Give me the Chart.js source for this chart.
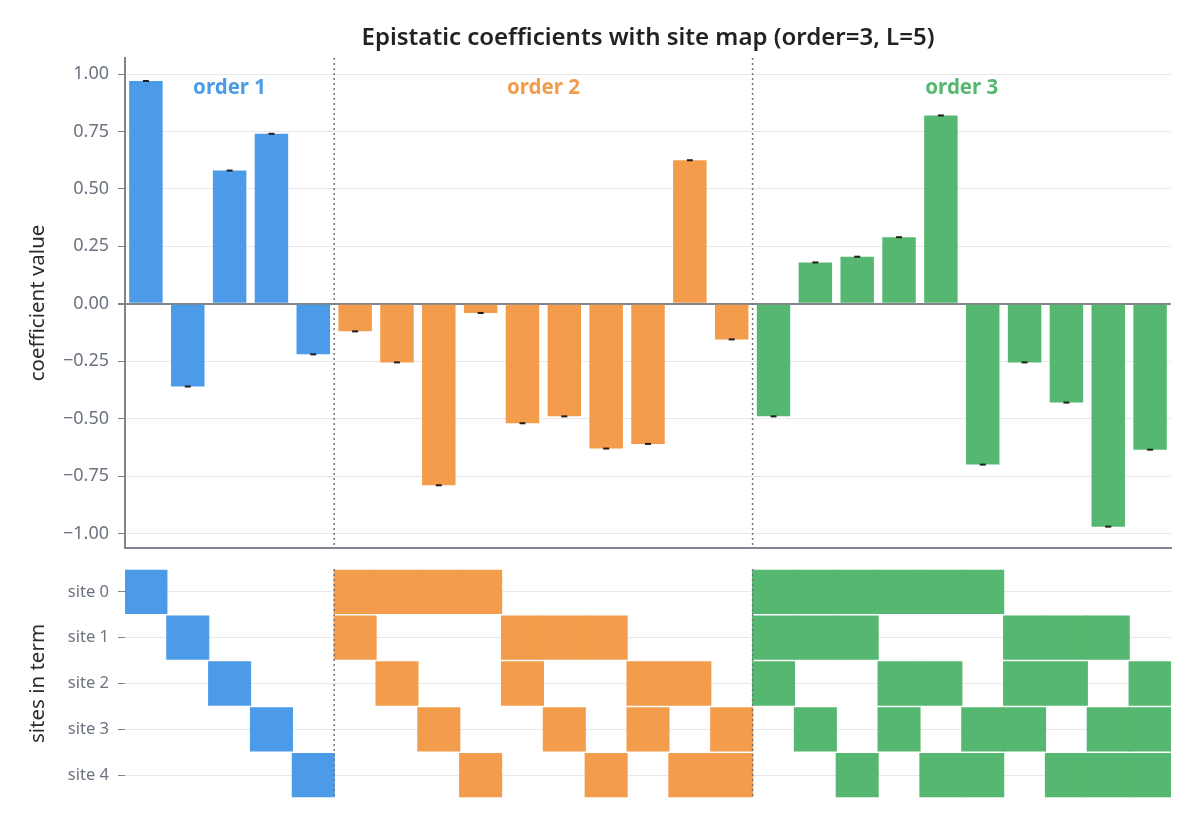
<!DOCTYPE html>
<html>
<head>
<meta charset="utf-8">
<script src="https://cdn.jsdelivr.net/npm/chart.js@4.4.1/dist/chart.umd.min.js"></script>
<style>
  body { margin: 0; background: #fff; }
  #wrap { position: relative; width: 1197px; height: 825px; }
  #coefChart { position: absolute; left: 0; top: 0; }
  #siteChart { position: absolute; left: 0; top: 560px; }
</style>
</head>
<body>
<div id="wrap">
  <canvas id="coefChart" width="1197" height="560"></canvas>
  <canvas id="siteChart" width="1197" height="265"></canvas>
</div>
<script>
// terms in the order they are plotted
var terms = [
  [0], [1], [2], [3], [4],
  [0,1], [0,2], [0,3], [0,4], [1,2], [1,3], [1,4], [2,3], [2,4], [3,4],
  [0,1,2], [0,1,3], [0,1,4], [0,2,3], [0,2,4], [0,3,4], [1,2,3], [1,2,4], [1,3,4], [2,3,4]
];
var termOrder = terms.map(function(t){ return t.length; });
var coefValues = [
  0.97, -0.36, 0.58, 0.74, -0.22,
  -0.12, -0.255, -0.79, -0.04, -0.52, -0.49, -0.63, -0.61, 0.625, -0.155,
  -0.49, 0.18, 0.205, 0.29, 0.82, -0.70, -0.255, -0.43, -0.97, -0.635
];
var orderNames = ['order 1', 'order 2', 'order 3'];
var orderColors = ['#4c9be8', '#f39c4b', '#56b870'];
var coefTicks = [-1, -0.75, -0.5, -0.25, 0, 0.25, 0.5, 0.75, 1];
var siteLabels = ['site 0', 'site 1', 'site 2', 'site 3', 'site 4'];

var FONT = '"Noto Sans", "DejaVu Sans", sans-serif';
var GRAY = '#80848c';
var labels = terms.map(function(t){ return t.join(','); });
var barColors = termOrder.map(function(o){ return orderColors[o - 1]; });

function fmt(v) {
  var s = Math.abs(v).toFixed(2);
  return v < 0 ? '\u2212' + s : s;
}

// fixed axis width, no extra label padding
function fixY(s) {
  s.width = 125;
  s.paddingTop = 0;
  s.paddingBottom = 0;
}

// dotted separators between order groups
function drawSeparators(chart) {
  var ctx = chart.ctx, x = chart.scales.x, a = chart.chartArea;
  ctx.save();
  ctx.strokeStyle = '#70747c';
  ctx.lineWidth = 1.5;
  ctx.setLineDash([2, 3]);
  for (var i = 1; i < termOrder.length; i++) {
    if (termOrder[i] !== termOrder[i - 1]) {
      var px = (x.getPixelForValue(i - 1) + x.getPixelForValue(i)) / 2;
      ctx.beginPath();
      ctx.moveTo(px, a.top);
      ctx.lineTo(px, a.bottom);
      ctx.stroke();
    }
  }
  ctx.restore();
}

function drawAxisTitle(chart, text) {
  var ctx = chart.ctx, a = chart.chartArea;
  ctx.save();
  ctx.translate(38, (a.top + a.bottom) / 2);
  ctx.rotate(-Math.PI / 2);
  ctx.fillStyle = '#2b2b2b';
  ctx.font = '20.5px ' + FONT;
  ctx.textAlign = 'center';
  ctx.textBaseline = 'middle';
  ctx.fillText(text, 0, 0);
  ctx.restore();
}

var coefDecor = {
  id: 'coefDecor',
  afterDatasetsDraw: function(chart) {
    var ctx = chart.ctx, x = chart.scales.x, a = chart.chartArea;
    drawSeparators(chart);
    // group labels
    ctx.save();
    ctx.font = 'bold 20.5px ' + FONT;
    ctx.textAlign = 'center';
    ctx.textBaseline = 'middle';
    for (var o = 1; o <= orderNames.length; o++) {
      var first = termOrder.indexOf(o), last = termOrder.lastIndexOf(o);
      var cx = (x.getPixelForValue(first) + x.getPixelForValue(last)) / 2;
      ctx.fillStyle = orderColors[o - 1];
      ctx.fillText(orderNames[o - 1], cx, a.top + 30);
    }
    // title
    ctx.fillStyle = '#222';
    ctx.font = '600 24px ' + FONT;
    ctx.fillText('Epistatic coefficients with site map (order=3, L=5)', (a.left + a.right) / 2, 38);
    ctx.restore();
    drawAxisTitle(chart, 'coefficient value');
  }
};

new Chart(document.getElementById('coefChart'), {
  type: 'bar',
  data: {
    labels: labels,
    datasets: [{
      type: 'line',
      data: coefValues,
      showLine: false,
      pointStyle: 'line',
      pointRadius: 3,
      pointBorderWidth: 2,
      pointBorderColor: '#1e1e1e',
      order: 0
    }, {
      data: coefValues,
      backgroundColor: barColors,
      barPercentage: 0.8,
      categoryPercentage: 1,
      order: 1
    }]
  },
  options: {
    responsive: false,
    animation: false,
    layout: { padding: { top: 58, left: 0, right: 26, bottom: 12 } },
    plugins: { legend: { display: false }, tooltip: { enabled: false } },
    scales: {
      x: {
        ticks: { display: false },
        grid: { display: false },
        border: { color: GRAY, width: 2 },
        afterFit: function(s) { s.height = 0; }
      },
      y: {
        min: -1.063,
        max: 1.07,
        afterBuildTicks: function(s) { s.ticks = coefTicks.map(function(v){ return { value: v }; }); },
        afterFit: fixY,
        ticks: {
          color: '#6b7280',
          font: { family: FONT, size: 18 },
          padding: 9,
          callback: function(v) { return fmt(v); }
        },
        grid: {
          color: function(c) { return c.tick && c.tick.value === 0 ? GRAY : '#e8e8e8'; },
          lineWidth: function(c) { return c.tick && c.tick.value === 0 ? 2 : 1; },
          tickColor: GRAY,
          tickLength: 7
        },
        border: { color: GRAY, width: 2 }
      }
    }
  },
  plugins: [coefDecor]
});

// site map: one floating bar dataset per site
var siteDatasets = siteLabels.map(function(name, s) {
  return {
    data: terms.map(function(t){ return t.indexOf(s) >= 0 ? [s - 0.47, s + 0.47] : null; }),
    backgroundColor: barColors,
    barPercentage: 1,
    categoryPercentage: 1,
    inflateAmount: 0.6,
    grouped: false
  };
});

var siteDecor = {
  id: 'siteDecor',
  afterDatasetsDraw: function(chart) {
    drawSeparators(chart);
    drawAxisTitle(chart, 'sites in term');
  }
};

new Chart(document.getElementById('siteChart'), {
  type: 'bar',
  data: { labels: labels, datasets: siteDatasets },
  options: {
    responsive: false,
    animation: false,
    layout: { padding: { top: 9, left: 0, right: 26, bottom: 27 } },
    plugins: { legend: { display: false }, tooltip: { enabled: false } },
    scales: {
      x: { display: false },
      y: {
        type: 'linear',
        min: -0.5,
        max: 4.5,
        reverse: true,
        z: 1,
        afterBuildTicks: function(s) { s.ticks = siteLabels.map(function(n, i){ return { value: i }; }); },
        afterFit: fixY,
        ticks: {
          color: '#6b7280',
          font: { family: FONT, size: 16.5 },
          padding: 9,
          callback: function(v) { return siteLabels[v]; }
        },
        grid: { color: '#e8e8e8', tickColor: GRAY, tickLength: 7 },
        border: { display: false }
      }
    }
  },
  plugins: [siteDecor]
});
</script>
</body>
</html>
